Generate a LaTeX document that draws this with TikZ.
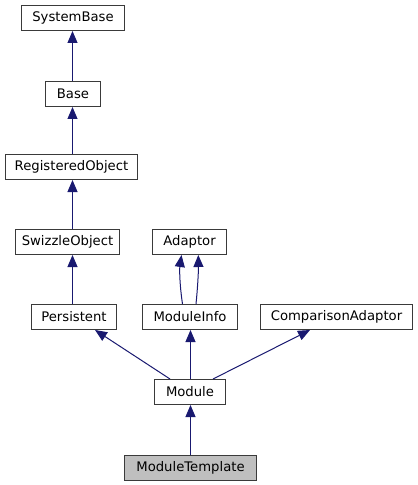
\documentclass[tikz,border=0pt]{standalone}
\usepackage{fontspec}
\setmainfont{DejaVu Sans}
\usetikzlibrary{arrows.meta,calc}
\definecolor{edgeblue}{HTML}{191970}
\definecolor{boxline}{HTML}{3A3A3A}
\definecolor{curfill}{HTML}{BFBFBF}
\tikzset{
  cls/.style={draw=boxline, line width=1bp, fill=white, minimum height=25bp,
    inner sep=0pt, font=\fontsize{13.2bp}{15bp}\selectfont, text=black},
  cur/.style={cls, fill=curfill},
  inh/.style={draw=edgeblue, line width=1bp,
    -{Triangle[length=12bp,width=10bp,fill=edgeblue]}}
}
\begin{document}
\begin{tikzpicture}[x=1bp,y=-1bp]
\useasboundingbox (0,0) rectangle (417,485);
\node[cls, minimum width=103bp] (sysbase) at (73,18) {SystemBase};
\node[cls, minimum width=55bp] (base) at (73,94) {Base};
\node[cls, minimum width=132bp] (regobj) at (71.5,167) {RegisteredObject};
\node[cls, minimum width=104bp] (swizzle) at (67.5,242) {SwizzleObject};
\node[cls, minimum width=74bp] (adaptor) at (189.5,242) {Adaptor};
\node[cls, minimum width=85bp] (persist) at (74,317) {Persistent};
\node[cls, minimum width=95bp] (modinfo) at (190,317) {ModuleInfo};
\node[cls, minimum width=152bp] (compad) at (336.5,317) {ComparisonAdaptor};
\node[cls, minimum width=71bp] (module) at (190,392) {Module};
\node[cur, minimum width=132bp] (modtpl) at (190.5,468) {ModuleTemplate};

\draw[inh] ($(base.north)+(-0.5,0)$) -- ($(base.north |- sysbase.south)+(-0.5,0)$);
\draw[inh] ($(regobj.north)+(1,0)$) -- ($(regobj.north |- base.south)+(1,0)$);
\draw[inh] ($(swizzle.north)+(5,0)$) -- ($(swizzle.north |- regobj.south)+(5,0)$);
\draw[inh] ($(persist.north)+(-1.5,0)$) -- ($(persist.north |- swizzle.south)+(-1.5,0)$);
\draw[inh] ($(modinfo.north)+(-7.5,0)$) .. controls ($(modinfo.north)+(-10.5,-20)$) and ($(adaptor.south)+(-10,14)$) .. ($(adaptor.south)+(-8,0)$);
\draw[inh] ($(modinfo.north)+(6,0)$) .. controls ($(modinfo.north)+(8,-20)$) and ($(adaptor.south)+(9,14)$) .. ($(adaptor.south)+(8.8,0)$);
\draw[inh] ($(module.north)+(-20,0)$) -- ($(persist.south)+(21,0)$);
\draw[inh] ($(module.north)+(0.5,0)$) -- ($(modinfo.south)+(0.5,0)$);
\draw[inh] ($(module.north)+(23,0)$) -- ($(compad.south)+(-26.5,0)$);
\draw[inh] (modtpl.north) -- (modtpl.north |- module.south);
\end{tikzpicture}
\end{document}
